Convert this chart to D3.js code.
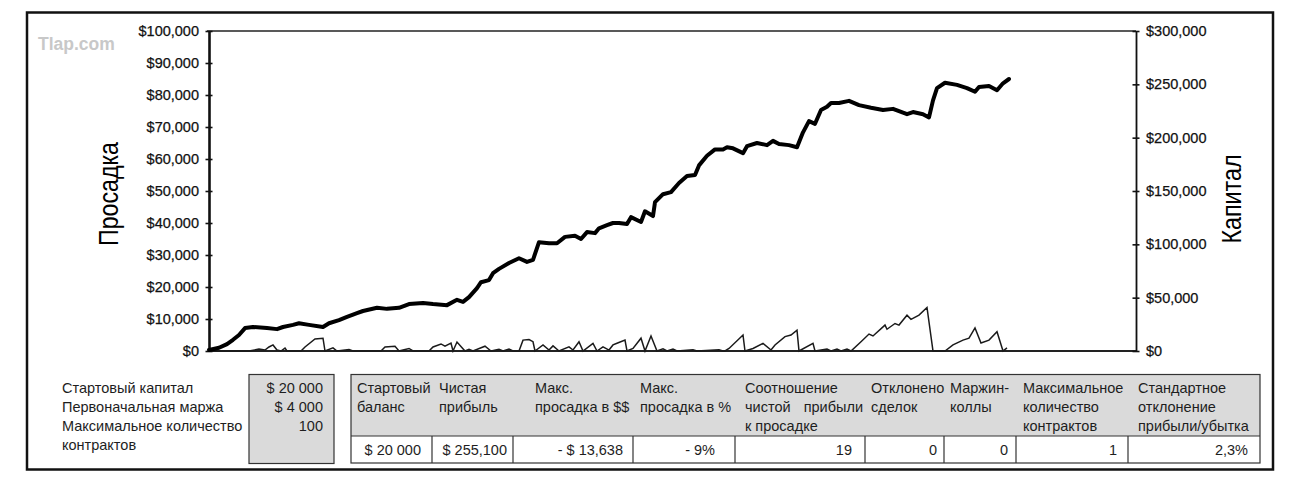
<!DOCTYPE html>
<html><head><meta charset="utf-8">
<script src="https://cdn.jsdelivr.net/npm/d3@7"></script>
<style>
html,body{margin:0;padding:0;background:#fff;}
svg text{font-family:"Liberation Sans",Arial,Helvetica,sans-serif;}
</style></head>
<body>
<svg id="chart" width="1290" height="478"></svg>
<script>
// ---------- DATA ----------
const leftTicks = [0,10000,20000,30000,40000,50000,60000,70000,80000,90000,100000];
const rightTicks = [0,50000,100000,150000,200000,250000,300000];
const leftTitle = "Просадка";
const rightTitle = "Капитал";
const watermark = "Tlap.com";

// equity curve (net profit, right axis): [trade number, $]
const equityPoints = [
 [0,1000],[5,3000],[9,6500],[12,10500],[15,15000],[18,21500],[22,22500],[29,21500],[34,20500],[37,22500],
 [42,24500],[45,26000],[50,24500],[57,22500],[60,26000],[65,29000],[69,32000],[74,35500],[77,37500],[84,40500],
 [89,39500],[95,40500],[100,44000],[107,45000],[112,44000],[119,43000],[124,48000],[127,46000],[130,50500],[134,59000],
 [136,64500],[140,66500],[142,73000],[145,77000],[150,82500],[155,87000],[159,83500],[162,85500],[165,102000],[170,101000],
 [174,101000],[178,107000],[183,108000],[186,105000],[189,111500],[193,110500],[195,115000],[199,118000],[202,120000],[205,120000],
 [209,119000],[211,125500],[216,121000],[218,131000],[222,126500],[223,139500],[227,147000],[231,149000],[235,157500],[239,164000],
 [243,165000],[245,174000],[249,183000],[253,189000],[257,189000],[259,191000],[262,190000],[267,185500],[269,192000],[274,195000],
 [279,193000],[282,197000],[285,194000],[290,193000],[294,191000],[297,205000],[300,215500],[303,213000],[306,226000],[309,229000],
 [311,232500],[315,232500],[320,234500],[325,230500],[331,228000],[337,226000],[342,227000],[349,222000],[352,224000],[357,222000],
 [360,219000],[362,235000],[364,246500],[368,251500],[374,249500],[379,246500],[383,243000],[385,247500],[390,248500],[394,244500],
 [397,251000],[400,255000]
];

// drawdown (left axis): [trade number, $]
const drawdownPoints = [
 [0,0],[20,0],[25,600],[28,300],[30,1250],[32,1900],[34,300],[36,0],[38,900],[39,0],
 [46,0],[48,1250],[53,3750],[57,4000],[58,0],[62,1000],[64,0],[70,500],[72,0],[86,0],
 [88,1250],[93,1500],[95,0],[100,800],[102,0],[110,0],[112,1250],[116,2200],[118,1500],[121,2500],
 [122,0],[124,2800],[128,0],[130,500],[132,0],[138,1500],[141,0],[145,500],[147,0],[150,600],
 [152,0],[155,0],[157,3400],[160,3600],[162,2900],[163,0],[167,1900],[170,300],[172,1600],[175,0],
 [180,1300],[182,300],[185,2900],[187,0],[192,2400],[194,0],[197,1300],[200,300],[202,1900],[204,2400],
 [208,3400],[209,0],[212,800],[216,4000],[218,0],[221,4700],[224,0],[227,700],[229,0],[232,600],
 [234,0],[242,400],[244,0],[255,400],[257,0],[258,0],[260,800],[267,5000],[268,0],[272,800],
 [277,2400],[281,300],[283,1900],[288,4500],[291,5000],[294,6500],[295,0],[302,2400],[303,0],[309,600],
 [311,0],[314,600],[316,0],[319,600],[321,0],[326,2900],[330,5300],[332,4700],[338,8100],[339,6800],
 [343,8600],[345,8100],[349,11200],[351,9900],[355,11200],[359,13600],[362,0],[368,0],[372,1900],[377,3400],
 [380,4000],[383,7200],[386,2500],[390,3400],[394,6000],[397,0],[399,1000]
];

// summary block
const inputLabels = ["Стартовый капитал","Первоначальная маржа","Максимальное количество","контрактов"];
const inputValues = ["$ 20 000","$ 4 000","100"];

const tableHeaders = [
 ["Стартовый","баланс"],
 ["Чистая","прибыль"],
 ["Макс.","просадка в $$"],
 ["Макс.","просадка в %"],
 ["Соотношение","чистой|прибыли","к просадке"],
 ["Отклонено","сделок"],
 ["Маржин-","коллы"],
 ["Максимальное","количество","контрактов"],
 ["Стандартное","отклонение","прибыли/убытка"]
];
const tableValues = ["$ 20 000","$ 255,100","- $ 13,638","- 9%","19","0","0","1","2,3%"];

// ---------- LAYOUT ----------
const svg = d3.select("#chart");
const P = {left:209, right:1136, top:31, bottom:351};

const x = d3.scaleLinear().domain([0,463.5]).range([P.left,P.right]);
const yL = d3.scaleLinear().domain([0,100000]).range([P.bottom,P.top]);
const yR = d3.scaleLinear().domain([0,300000]).range([P.bottom,P.top]);
const fmt = d3.format("$,");

// outer frame
svg.append("rect").attr("x",27).attr("y",12.5).attr("width",1246).attr("height",457)
  .attr("fill","none").attr("stroke","#111").attr("stroke-width",2.5);

// watermark
svg.append("text").attr("x",38).attr("y",50).text(watermark)
  .attr("font-size",17.5).attr("font-weight","bold").attr("fill","#c8c8c8");

// plot frame lines
svg.append("line").attr("x1",P.left-2).attr("x2",P.right).attr("y1",P.top).attr("y2",P.top)
  .attr("stroke","#222").attr("stroke-width",1.6);
svg.append("line").attr("x1",P.left).attr("x2",P.right).attr("y1",P.bottom).attr("y2",P.bottom)
  .attr("stroke","#222").attr("stroke-width",1.8);

// left axis
const gL = svg.append("g").attr("transform",`translate(${P.left},0)`)
  .call(d3.axisLeft(yL).tickValues(leftTicks).tickFormat(fmt).tickSizeInner(4).tickSizeOuter(0).tickPadding(6));
gL.select(".domain").attr("stroke","#111").attr("stroke-width",2.6);
gL.selectAll(".tick line").attr("x1",3.5).attr("x2",-3.5).attr("stroke","#111").attr("stroke-width",1.6);
gL.selectAll(".tick text").attr("font-size",14.5).attr("fill","#111")
  .attr("font-family","'Liberation Sans',Arial,sans-serif").attr("stroke","#111").attr("stroke-width",0.25);

// right axis
const gR = svg.append("g").attr("transform",`translate(${P.right},0)`)
  .call(d3.axisRight(yR).tickValues(rightTicks).tickFormat(fmt).tickSizeInner(4).tickSizeOuter(0).tickPadding(6));
gR.select(".domain").attr("stroke","#111").attr("stroke-width",1.8);
gR.selectAll(".tick line").attr("x1",-3.5).attr("x2",3.5).attr("stroke","#111").attr("stroke-width",1.6);
gR.selectAll(".tick text").attr("font-size",14.5).attr("fill","#111")
  .attr("font-family","'Liberation Sans',Arial,sans-serif").attr("stroke","#111").attr("stroke-width",0.25);

// axis titles
svg.append("text").attr("transform","translate(118,194) rotate(-90)")
  .attr("text-anchor","middle").attr("font-size",28).attr("fill","#000")
  .attr("textLength",104).attr("lengthAdjust","spacingAndGlyphs").text(leftTitle);
svg.append("text").attr("transform","translate(1241,199) rotate(-90)")
  .attr("text-anchor","middle").attr("font-size",28).attr("fill","#000")
  .attr("textLength",89).attr("lengthAdjust","spacingAndGlyphs").text(rightTitle);

// series
const ddLine = d3.line().x(d=>x(d[0])).y(d=>yL(d[1]));
svg.append("path").datum(drawdownPoints).attr("d",ddLine)
  .attr("fill","none").attr("stroke","#1a1a1a").attr("stroke-width",1.5).attr("stroke-linejoin","miter");

const eqLine = d3.line().x(d=>x(d[0])).y(d=>yR(d[1]));
svg.append("path").datum(equityPoints).attr("d",eqLine)
  .attr("fill","none").attr("stroke","#000").attr("stroke-width",4).attr("stroke-linejoin","round").attr("stroke-linecap","round");

// ---------- SUMMARY ----------
const txtColor = "#1e1e1e";
const fs = 14.5;
const lineY = [393,412,431,450];

inputLabels.forEach((t,i)=>{
  svg.append("text").attr("x",62).attr("y",lineY[i]).attr("font-size",fs).attr("fill",txtColor).text(t);
});
svg.append("rect").attr("x",249).attr("y",374.5).attr("width",85).attr("height",89)
  .attr("fill","#dadada").attr("stroke","#333").attr("stroke-width",1.2);
inputValues.forEach((t,i)=>{
  svg.append("text").attr("x",323).attr("y",lineY[i]).attr("text-anchor","end")
    .attr("font-size",fs).attr("fill",txtColor).text(t);
});

// results table
const colX = [351,432,513,633,735,865,944,1016,1128,1260];
const headPad = [6,7,22,7,10,6,6,7,10];
const valPad = [11,6,10,20,13,7,8,11,12];
const tTop = 374.5, tMid = 436, tBot = 463;
svg.append("rect").attr("x",colX[0]).attr("y",tTop).attr("width",colX[9]-colX[0]).attr("height",tMid-tTop)
  .attr("fill","#dadada");
svg.append("rect").attr("x",colX[0]).attr("y",tTop).attr("width",colX[9]-colX[0]).attr("height",tBot-tTop)
  .attr("fill","none").attr("stroke","#333").attr("stroke-width",1.2);
svg.append("line").attr("x1",colX[0]).attr("x2",colX[9]).attr("y1",tMid).attr("y2",tMid)
  .attr("stroke","#333").attr("stroke-width",1.2);
colX.slice(1,9).forEach(cx=>{
  svg.append("line").attr("x1",cx).attr("x2",cx).attr("y1",tMid).attr("y2",tBot)
    .attr("stroke","#333").attr("stroke-width",1.2);
});
tableHeaders.forEach((lines,c)=>{
  lines.forEach((ln,r)=>{
    if (ln.includes("|")) {
      const parts = ln.split("|");
      svg.append("text").attr("x",colX[c]+headPad[c]).attr("y",lineY[r]).attr("font-size",fs).attr("fill",txtColor).text(parts[0]);
      svg.append("text").attr("x",colX[c+1]-2).attr("y",lineY[r]).attr("text-anchor","end").attr("font-size",fs).attr("fill",txtColor).text(parts[1]);
    } else {
      svg.append("text").attr("x",colX[c]+headPad[c]).attr("y",lineY[r])
        .attr("font-size",fs).attr("fill",txtColor).text(ln);
    }
  });
});
tableValues.forEach((v,c)=>{
  svg.append("text").attr("x",colX[c+1]-valPad[c]).attr("y",455).attr("text-anchor","end")
    .attr("font-size",fs).attr("fill",txtColor).text(v);
});
</script>
</body></html>
